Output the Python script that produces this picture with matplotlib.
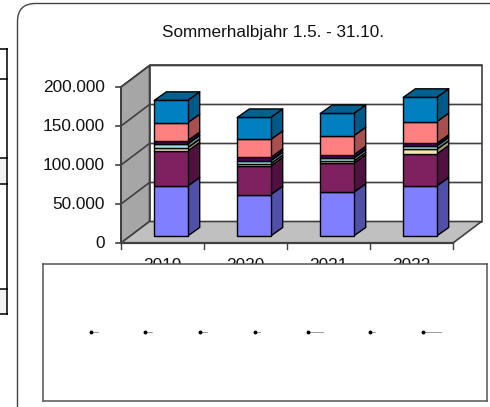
import matplotlib
matplotlib.use("Agg")
import matplotlib.pyplot as plt
from matplotlib.patches import FancyBboxPatch, Polygon, Rectangle

plt.rcParams['font.family'] = ['Liberation Sans', 'DejaVu Sans']

W, H = 490, 407

# Data, stacked bottom to top
years = ["2019", "2020", "2021", "2022"]
s_blue_light = [64100, 53000, 56000, 64100]
s_maroon = [44900, 36700, 37200, 41000]
s_yellow = [4300, 3000, 2800, 6000]
s_teal = [4700, 3800, 3800, 4300]
s_purple = [4300, 4300, 4300, 3400]
s_pink = [23000, 23000, 24400, 27800]
s_blue = [28600, 28200, 28600, 31200]
y_ticks = [0, 50000, 100000, 150000, 200000]
y_labels = ["0", "50.000", "100.000", "150.000", "200.000"]

series = [s_blue_light, s_maroon, s_yellow, s_teal, s_purple, s_pink, s_blue]
front_cols = ["#7F7FFF", "#7F2060", "#F0E8B0", "#A0E0E0", "#4B0060", "#FF8080", "#0080C0"]
side_cols = ["#5050A8", "#501040", "#A09870", "#609090", "#300040", "#A85050", "#005A88"]
top_col = "#006090"

fig = plt.figure(figsize=(W / 100, H / 100), dpi=100, facecolor="white")

# page layer: rounded card and the table edge on the left, in pixels
page = fig.add_axes([0, 0, 1, 1], zorder=0)
page.set_xlim(0, W)
page.set_ylim(H, 0)
page.axis("off")
page.add_patch(FancyBboxPatch((17.5 + 18, 3.5 + 18), 600, 500,
                              boxstyle="round,pad=18,rounding_size=18",
                              fc="white", ec="#444444", lw=1.0))
for y0, y1 in [(157.7, 183.7), (289, 314.3)]:
    page.add_patch(Rectangle((0, y0), 7.3, y1 - y0, fc="#F2F2F2", ec="none"))
for y in [48.7, 78.7, 157.7, 183.7, 289, 314.3]:
    page.plot([0, 8], [y, y], color="black", lw=1.1, solid_capstyle="butt")
page.plot([7.3, 7.3], [48.2, 314.8], color="black", lw=1.1, solid_capstyle="butt")
page.text(273, 32.5, "Sommerhalbjahr 1.5. - 31.10.", ha="center", va="center",
          fontsize=12.3, color="#111111")

# chart layer: x is category units, y is the value
ax = fig.add_axes([121 / W, 1 - 243 / H, 332 / W, 156 / H], zorder=1)
ax.set_xlim(0, 4)
ax.set_ylim(0, 200000)
ax.axis("off")

px_x = 4 / 332
px_y = 200000 / 156
depth_x = 28.5 * px_x
depth_y = 21.5 * px_y
wall = "#404040"


def poly(pts, fc, ec="black", lw=1.0, z=2):
    ax.add_patch(Polygon(pts, closed=True, fc=fc, ec=ec, lw=lw, zorder=z,
                         clip_on=False, joinstyle="round"))


top = y_ticks[-1]
# walls and floor
poly([(depth_x, depth_y), (4 + depth_x, depth_y), (4 + depth_x, top + depth_y), (depth_x, top + depth_y)],
     "white", wall, 1.2, 1)
poly([(0, 0), (depth_x, depth_y), (depth_x, top + depth_y), (0, top)], "#A6A6A6", wall, 1.2, 1)
poly([(0, 0), (4, 0), (4 + depth_x, depth_y), (depth_x, depth_y)], "#C0C0C0", wall, 1.2, 1)
for v, lab in zip(y_ticks, y_labels):
    if v > 0:
        ax.plot([0, depth_x, 4 + depth_x], [v, v + depth_y, v + depth_y], color=wall, lw=1.2,
                zorder=1.5, clip_on=False)
    ax.plot([-5 * px_x, 0], [v, v], color=wall, lw=1.2, zorder=1.5, clip_on=False)
    ax.text(-16 * px_x, v - 0.7 * px_y, lab, ha="right", va="center", fontsize=12.4, color="#111111")
ax.plot([0, 0], [0, top], color=wall, lw=1.4, zorder=1.5, clip_on=False)
ax.plot([0, 4], [0, 0], color=wall, lw=1.6, zorder=1.5, clip_on=False)
for i in range(5):
    ax.plot([i, i], [0, -5.5 * px_y], color=wall, lw=1.0, zorder=1.5, clip_on=False)

# bars
bar_w = 33.4 * px_x
bar_dx = 12 * px_x
bar_dy = 8.5 * px_y
off_x = 33.3 * px_x
off_y = 7 * px_y
for i, year in enumerate(years):
    ax.text(i + 0.5, -22.5 * px_y, year, ha="center", va="center", fontsize=12.4, color="#111111")
    x0 = i + off_x
    x1 = x0 + bar_w
    base = off_y
    for vals, fc, sc in zip(series, front_cols, side_cols):
        y1 = base + vals[i]
        poly([(x1, base), (x1 + bar_dx, base + bar_dy), (x1 + bar_dx, y1 + bar_dy), (x1, y1)], sc, z=3)
        poly([(x0, base), (x1, base), (x1, y1), (x0, y1)], fc, z=3)
        base = y1
    poly([(x0, base), (x1, base), (x1 + bar_dx, base + bar_dy), (x0 + bar_dx, base + bar_dy)], top_col, z=3)

# legend box covers the lower part of the year labels
leg = fig.add_axes([42.5 / W, 1 - 400.7 / H, 444 / W, 137 / H], zorder=2, facecolor="white")
leg.set_xlim(42.5, 486.5)
leg.set_ylim(400.7, 263.7)
leg.set_xticks([])
leg.set_yticks([])
for s in leg.spines.values():
    s.set_color("#555555")
    s.set_linewidth(1.1)
# unreadable tiny legend entries, key dot and a hairline in place of the text
key_x = [90.7, 145.3, 200, 254.7, 307.7, 370.3, 423.3]
key_len = [7, 7, 7, 5, 15, 5, 18]
for x, n in zip(key_x, key_len):
    leg.plot([x, x + n], [332, 332], color="#888888", lw=0.6)
    leg.plot([x], [332], "o", color="black", ms=2.8, mew=0)

fig.savefig("out.png", dpi=100)
